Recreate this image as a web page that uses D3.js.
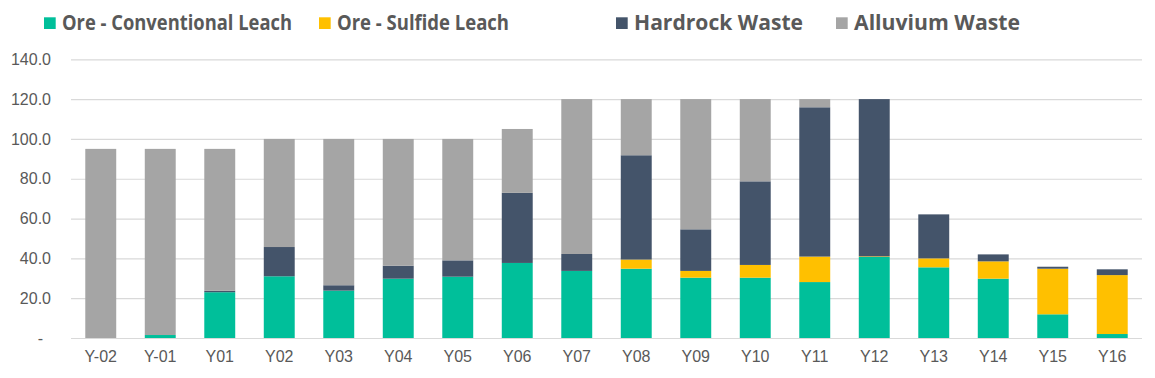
<!DOCTYPE html>
<html><head><meta charset="utf-8">
<script src="https://cdn.jsdelivr.net/npm/d3@7"></script>
<style>body{margin:0;background:#fff;}svg{display:block;}</style>
</head><body>
<script>
const categories = ["Y-02","Y-01","Y01","Y02","Y03","Y04","Y05","Y06","Y07","Y08","Y09","Y10","Y11","Y12","Y13","Y14","Y15","Y16"];
const seriesNames = ["Ore - Conventional Leach","Ore - Sulfide Leach","Hardrock Waste","Alluvium Waste"];
const oreConventional = [0, 1.5, 23.0, 31.0, 23.8, 29.8, 30.8, 37.7, 33.7, 34.8, 30.3, 30.3, 28.1, 40.7, 35.5, 29.8, 11.9, 2.0];
const oreSulfide      = [0, 0, 0, 0, 0, 0, 0, 0, 0, 4.6, 3.4, 6.4, 12.8, 0.3, 4.5, 8.7, 22.9, 29.6];
const hardrockWaste   = [0, 0, 0.7, 14.7, 2.7, 6.5, 8.2, 35.2, 8.5, 52.4, 20.9, 42.0, 75.0, 79.0, 22.1, 3.5, 1.0, 2.9];
const alluviumWaste   = [95, 93.5, 71.3, 54.3, 73.5, 63.7, 61.0, 32.1, 77.8, 28.2, 65.4, 41.3, 4.1, 0, 0, 0, 0, 0];
const yTicks = [0, 20, 40, 60, 80, 100, 120, 140];
const colors = ["#00BF9A", "#FFC000", "#44546A", "#A5A5A5"];

const W = 1155, H = 378;
const svg = d3.select("body").append("svg").attr("width", W).attr("height", H);
const m = {left: 71, right: 13};
const x = d3.scaleBand().domain(categories).range([m.left, W - m.right]).paddingInner(0.48).paddingOuter(0.24);
const y = d3.scaleLinear().domain([0, 140]).range([338, 59.3]);

const rows = categories.map((c, i) => ({cat: c, s0: oreConventional[i], s1: oreSulfide[i], s2: hardrockWaste[i], s3: alluviumWaste[i]}));
const stack = d3.stack().keys(["s0","s1","s2","s3"])(rows);

const tickFont = "Liberation Sans, Arial, sans-serif";

// gridlines
const yAxis = d3.axisLeft(y).tickValues(yTicks).tickSize(-(W - m.right - m.left)).tickFormat(d => d === 0 ? "-" : d3.format(".1f")(d));
const gy = svg.append("g").attr("transform", `translate(${m.left},0)`).call(yAxis);
gy.select(".domain").remove();
gy.selectAll(".tick line").attr("stroke", "#D9D9D9").attr("stroke-width", 1.2);
gy.selectAll(".tick text").attr("x", -20).attr("fill", "#595959").style("font-family", tickFont).style("font-size", "16px");
gy.selectAll(".tick text").filter(d => d === 0).attr("x", -28);

// bars
svg.append("g").selectAll("g").data(stack).join("g").attr("fill", (d, i) => colors[i])
  .selectAll("rect").data(d => d).join("rect")
  .attr("x", d => x(d.data.cat)).attr("width", x.bandwidth())
  .attr("y", d => y(d[1])).attr("height", d => Math.max(0, y(d[0]) - y(d[1])));

// x axis
const xAxis = d3.axisBottom(x).tickSize(0).tickPadding(13);
const gx = svg.append("g").attr("transform", `translate(0,338)`).call(xAxis);
gx.select(".domain").remove();
gx.selectAll(".tick text").attr("fill", "#595959").style("font-family", tickFont).style("font-size", "16px");

// legend
const legendX = [44, 319, 616, 836];
const legendW = [230, 172, 169, 166];
const lg = svg.append("g").selectAll("g").data(seriesNames).join("g").attr("transform", (d, i) => `translate(${legendX[i]},0)`);
lg.append("rect").attr("x", 0).attr("y", 17.3).attr("width", 11.7).attr("height", 11.7).attr("fill", (d, i) => colors[i]);
lg.append("text").attr("x", 18).attr("y", 30).text(d => d)
  .attr("fill", "#595959").style("font-family", "Open Sans, sans-serif").style("font-weight", "700").style("font-size", "22px")
  .attr("textLength", (d, i) => legendW[i]).attr("lengthAdjust", "spacingAndGlyphs");
</script>
</body></html>
